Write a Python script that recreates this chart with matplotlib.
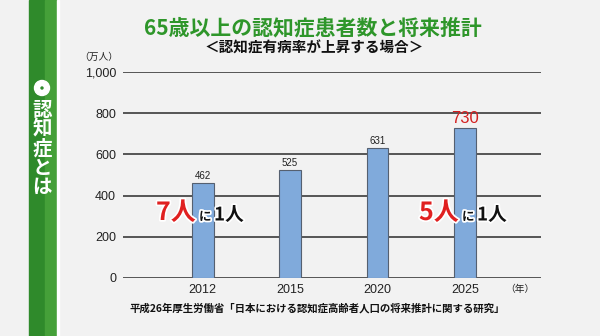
import matplotlib.pyplot as plt
import matplotlib.patheffects as pe
from matplotlib.patches import Rectangle, Circle

plt.rcParams['font.family'] = ['Noto Sans CJK JP', 'DejaVu Sans']

# 認知症患者数（万人）
years = ['2012', '2015', '2020', '2025']
patients = [462, 525, 631, 730]
y_ticks = [0, 200, 400, 600, 800, 1000]
y_tick_labels = ['0', '200', '400', '600', '800', '1,000']

W, H = 600, 336
fig = plt.figure(figsize=(6, 3.36), dpi=100)
fig.patch.set_facecolor('#f2f2f2')


def px(x, y):
    # pixel position (from top-left) -> figure fraction
    return x / W, 1 - y / H


# side bar
side = fig.add_axes([0, 0, 1, 1], zorder=-1)
side.set_xlim(0, W)
side.set_ylim(H, 0)
side.axis('off')
side.add_patch(Rectangle((29, 0), 28, H, color='#2f8a2b'))
side.add_patch(Rectangle((45, 0), 12, H, color='#45a039'))
side.add_patch(Rectangle((57, 0), 2, H, color='white'))
side.add_patch(Circle((42, 88), 7.5, color='white'))
side.add_patch(Circle((42, 88), 1.0, color='#2f8a2b'))
side.text(42, 149, '\n'.join('認知症とは'), color='white', fontsize=14,
          fontweight='bold', ha='center', va='center', linespacing=1.02)

# titles
fig.text(*px(313, 28), '65歳以上の認知症患者数と将来推計', color='#2e962a',
         fontsize=15, fontweight='bold', ha='center', va='center')
fig.text(*px(314, 48), '＜認知症有病率が上昇する場合＞', color='#111111',
         fontsize=10.5, fontweight='bold', ha='center', va='center')

ax = fig.add_axes([123 / W, 58 / H, 418 / W, 206 / H])
ax.set_facecolor('none')
x = range(len(years))
bars = ax.bar(x, patients, width=0.25, color='#80aadb', edgecolor='#556070',
              linewidth=0.8, zorder=3)
ax.set_xlim(-0.91, 3.87)
ax.set_ylim(0, 1000)
ax.set_yticks(y_ticks)
ax.set_yticklabels(y_tick_labels)
ax.set_xticks(list(x))
ax.set_xticklabels(years)
ax.tick_params(length=0, labelsize=9, colors='#222222')
ax.tick_params(axis='y', pad=5)
ax.tick_params(axis='x', pad=4)
for lab in ax.get_xticklabels() + ax.get_yticklabels():
    lab.set_family(['Liberation Sans', 'DejaVu Sans'])
ax.grid(axis='y', color='#555555', linewidth=1.4, zorder=1)
ax.set_axisbelow(True)
for s in ax.spines.values():
    s.set_visible(False)

# value labels
for i, v in enumerate(patients):
    if i == len(patients) - 1:
        ax.text(i, v + 6, str(v), color='#d42020', fontsize=12,
                ha='center', va='bottom', family=['Liberation Sans'])
    else:
        ax.text(i, v + 8, str(v), color='#222222', fontsize=7,
                ha='center', va='bottom', family=['Liberation Sans'])

fig.text(*px(118, 57), '（万人）', fontsize=7, ha='right', va='center',
         color='#222222')
fig.text(*px(520, 289), '（年）', fontsize=7, ha='center', va='center',
         color='#222222')
fig.text(*px(130, 308), '平成26年厚生労働省「日本における認知症高齢者人口の将来推計に関する研究」',
         fontsize=7.5, fontweight='bold', ha='left', va='center',
         color='#111111')

# ratio notes
outline = [pe.withStroke(linewidth=2.5, foreground='white')]


def ratio(x0, n):
    fig.text(*px(x0, 213), f'{n}人', color='#e02020', fontsize=18,
             fontweight='bold', ha='left', va='center', path_effects=outline)
    fig.text(*px(x0 + 43, 217), 'に', color='#111111', fontsize=9,
             fontweight='bold', ha='left', va='center', path_effects=outline)
    fig.text(*px(x0 + 58, 215), '1人', color='#111111', fontsize=13.5,
             fontweight='bold', ha='left', va='center', path_effects=outline)


ratio(156, 7)
ratio(419, 5)

fig.savefig('out.png', dpi=100, facecolor=fig.get_facecolor())
